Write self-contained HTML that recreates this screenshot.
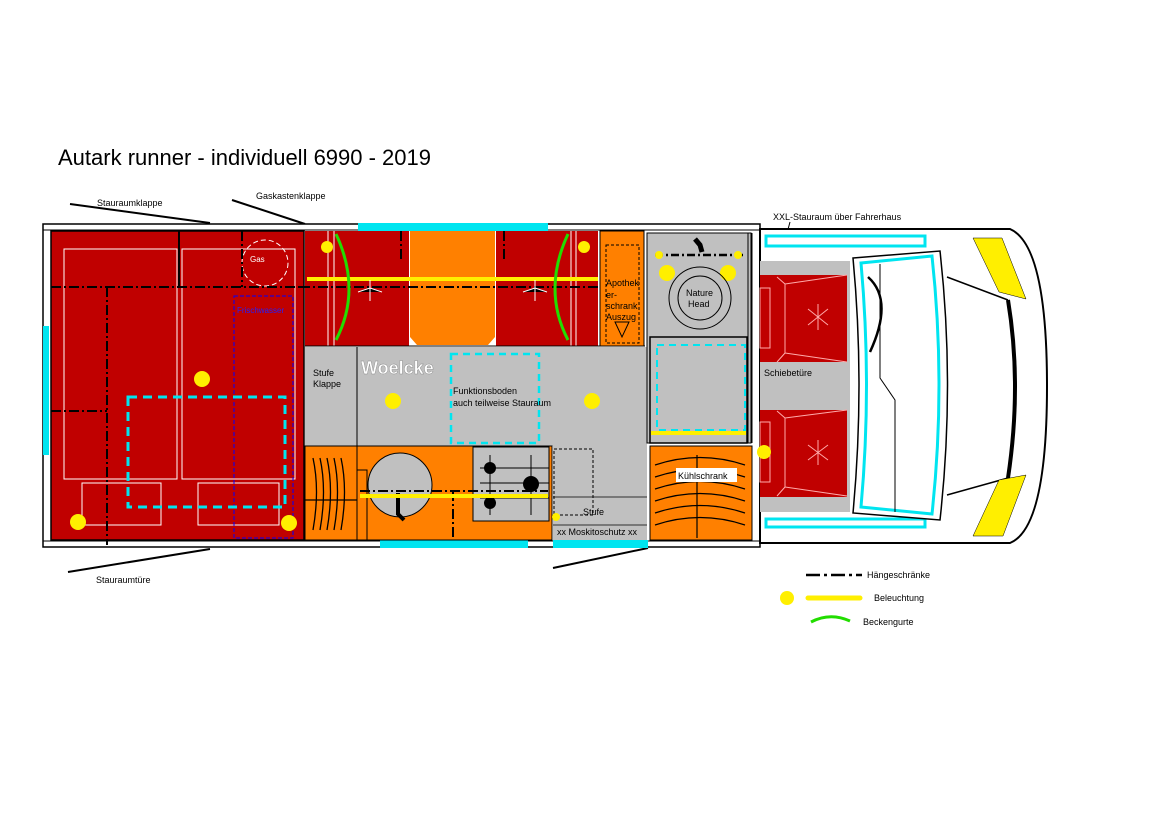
<!DOCTYPE html>
<html><head><meta charset="utf-8"><style>
html,body{margin:0;padding:0;background:#fff}
svg{display:block;font-family:"Liberation Sans",sans-serif}
</style></head><body>
<svg width="1169" height="826" viewBox="0 0 1169 826" xmlns="http://www.w3.org/2000/svg">
<rect width="1169" height="826" fill="#fff"/>
<text x="58" y="165" font-size="22" fill="#000">Autark runner - individuell 6990 - 2019</text>

<!-- label lines -->
<line x1="70" y1="204" x2="210" y2="223" stroke="#000" stroke-width="2"/>
<text x="97" y="206" font-size="9">Stauraumklappe</text>
<line x1="232" y1="200" x2="305" y2="224" stroke="#000" stroke-width="2"/>
<text x="256" y="199" font-size="9">Gaskastenklappe</text>
<line x1="68" y1="572" x2="210" y2="549" stroke="#000" stroke-width="2"/>
<text x="96" y="583" font-size="9">Stauraumtüre</text>
<line x1="553" y1="568" x2="648" y2="548" stroke="#000" stroke-width="2"/>
<text x="773" y="220" font-size="9">XXL-Stauraum über Fahrerhaus</text>
<line x1="790" y1="222" x2="772" y2="288" stroke="#000" stroke-width="1"/>

<!-- body -->
<rect x="43" y="224" width="717" height="323" fill="#fff" stroke="#000" stroke-width="1.5"/>
<line x1="43" y1="230" x2="760" y2="230" stroke="#000"/>
<line x1="43" y1="541" x2="760" y2="541" stroke="#000"/>
<rect x="43" y="326" width="6" height="129" fill="#00e5f0"/>
<rect x="358" y="223" width="190" height="8" fill="#00e5f0"/>
<rect x="380" y="540" width="148" height="8" fill="#00e5f0"/>
<rect x="553" y="540" width="95" height="8" fill="#00e5f0"/>

<!-- rear bed -->
<rect x="51" y="231" width="253" height="309" fill="#c00000" stroke="#000" stroke-width="1.5"/>
<rect x="64" y="249" width="113" height="230" fill="none" stroke="#fff"/>
<rect x="182" y="249" width="113" height="230" fill="none" stroke="#fff"/>
<rect x="82" y="483" width="79" height="42" fill="none" stroke="#fff"/>
<rect x="198" y="483" width="81" height="42" fill="none" stroke="#fff"/>
<circle cx="265" cy="263" r="23" fill="none" stroke="#fff" stroke-dasharray="5,3"/>
<text x="250" y="262" font-size="8" fill="#fff">Gas</text>
<rect x="234" y="296" width="59" height="242" fill="none" stroke="#0000ff" stroke-dasharray="4,2"/>
<text x="237" y="313" font-size="8" fill="#2020ff">Frischwasser</text>
<g stroke="#000" stroke-width="2" stroke-dasharray="10,3,2,3" fill="none">
<line x1="51" y1="287" x2="304" y2="287"/>
<line x1="107" y1="287" x2="107" y2="545"/>
<line x1="51" y1="411" x2="107" y2="411"/>
<line x1="242" y1="231" x2="242" y2="287"/>
</g>
<line x1="179" y1="231" x2="179" y2="287" stroke="#000" stroke-width="2"/>
<rect x="128" y="397" width="157" height="110" fill="none" stroke="#00e5f0" stroke-width="3" stroke-dasharray="9,6"/>
<circle cx="202" cy="379" r="8" fill="#ffef00"/>
<circle cx="78" cy="522" r="8" fill="#ffef00"/>
<circle cx="289" cy="523" r="8" fill="#ffef00"/>

<!-- upper cabinets -->
<rect x="305" y="231" width="104" height="115" fill="#c00000"/>
<rect x="496" y="231" width="102" height="115" fill="#c00000"/>
<path d="M410 231 H495 V337 L488 345 H417 L410 337 Z" fill="#ff8000"/>
<rect x="600" y="231" width="44" height="115" fill="#ff8000" stroke="#000"/>
<rect x="606" y="245" width="33" height="98" fill="none" stroke="#000" stroke-dasharray="3,2"/>
<text x="606" y="286" font-size="9">Apothek</text>
<text x="606" y="298" font-size="9">er-</text>
<text x="606" y="309" font-size="9">schrank</text>
<text x="606" y="320" font-size="9">Auszug</text>
<path d="M615 322 H629 L622 337 Z" fill="none" stroke="#000"/>
<g stroke="#fff"><line x1="328" y1="231" x2="328" y2="346"/><line x1="334" y1="231" x2="334" y2="346"/><line x1="571" y1="231" x2="571" y2="346"/><line x1="576" y1="231" x2="576" y2="346"/></g>
<line x1="300" y1="287" x2="600" y2="287" stroke="#000" stroke-width="2" stroke-dasharray="10,3,2,3"/>
<line x1="401" y1="231" x2="401" y2="260" stroke="#000" stroke-width="2" stroke-dasharray="10,3,2,3"/>
<line x1="504" y1="231" x2="504" y2="260" stroke="#000" stroke-width="2" stroke-dasharray="10,3,2,3"/>
<line x1="307" y1="279" x2="598" y2="279" stroke="#ffef00" stroke-width="4"/>
<path d="M336 234 Q362 290 336 340" fill="none" stroke="#22dd00" stroke-width="3"/>
<path d="M568 234 Q542 290 568 340" fill="none" stroke="#22dd00" stroke-width="3"/>
<circle cx="327" cy="247" r="6" fill="#ffef00"/>
<circle cx="584" cy="247" r="6" fill="#ffef00"/>
<g stroke="#fff"><path d="M370 280 V301 M358 292 L370 288 L382 292"/><path d="M535 280 V301 M523 292 L535 288 L547 292"/></g>
<line x1="305" y1="346" x2="645" y2="346" stroke="#000"/>

<!-- floor -->
<rect x="305" y="347" width="342" height="99" fill="#c0c0c0"/>
<line x1="357" y1="347" x2="357" y2="446" stroke="#000"/>
<text x="313" y="376" font-size="9">Stufe</text>
<text x="313" y="387" font-size="9">Klappe</text>
<text x="361" y="374" font-size="18" font-weight="bold" fill="#fff" stroke="#888" stroke-width="0.4">Woelcke</text>
<rect x="451" y="354" width="88" height="89" fill="none" stroke="#00e5f0" stroke-width="2.5" stroke-dasharray="7,5"/>
<text x="453" y="394" font-size="9">Funktionsboden</text>
<text x="453" y="406" font-size="9">auch teilweise Stauraum</text>
<circle cx="393" cy="401" r="8" fill="#ffef00"/>
<circle cx="592" cy="401" r="8" fill="#ffef00"/>

<!-- lower -->
<rect x="305" y="446" width="52" height="94" fill="#ff8000" stroke="#000"/>
<g stroke="#000" fill="none" stroke-width="1.3">
<path d="M313 458 Q320 490 313 530"/><path d="M320 458 Q327 490 320 530"/><path d="M327 458 Q334 490 327 530"/><path d="M334 458 Q341 490 334 530"/><path d="M341 458 Q348 490 341 530"/>
<line x1="305" y1="500" x2="357" y2="500"/></g>
<rect x="357" y="446" width="195" height="94" fill="#ff8000" stroke="#000"/>
<rect x="357" y="470" width="10" height="70" fill="#ff8000" stroke="#000"/>
<circle cx="400" cy="485" r="32" fill="#c0c0c0" stroke="#000"/>
<path d="M398 493 V514 L404 520" stroke="#000" stroke-width="4" fill="none"/>
<rect x="473" y="447" width="76" height="74" fill="#c0c0c0" stroke="#000"/>
<g stroke="#000"><line x1="480" y1="468" x2="549" y2="468"/><line x1="480" y1="483" x2="549" y2="483"/><line x1="480" y1="498" x2="549" y2="498"/><line x1="490" y1="455" x2="490" y2="515"/><line x1="531" y1="455" x2="531" y2="515"/></g>
<circle cx="490" cy="468" r="6" fill="#000"/><circle cx="531" cy="484" r="8" fill="#000"/><circle cx="490" cy="503" r="6" fill="#000"/>
<line x1="360" y1="491" x2="548" y2="491" stroke="#000" stroke-width="2" stroke-dasharray="10,3,2,3"/>
<line x1="453" y1="491" x2="453" y2="540" stroke="#000" stroke-width="2" stroke-dasharray="10,3,2,3"/>
<line x1="360" y1="496" x2="548" y2="496" stroke="#ffef00" stroke-width="4"/>
<rect x="553" y="446" width="94" height="94" fill="#c0c0c0"/>
<rect x="554" y="449" width="39" height="66" fill="none" stroke="#000" stroke-dasharray="3,2"/>
<line x1="553" y1="497" x2="647" y2="497" stroke="#000" stroke-width="0.8"/>
<line x1="553" y1="525" x2="647" y2="525" stroke="#000" stroke-width="0.8"/>
<text x="583" y="515" font-size="9">Stufe</text>
<text x="557" y="535" font-size="9">xx Moskitoschutz xx</text>
<circle cx="556" cy="517" r="4" fill="#ffef00"/>

<!-- bathroom -->
<rect x="647" y="233" width="104" height="210" fill="#c0c0c0" stroke="#000"/>
<line x1="655" y1="255" x2="745" y2="255" stroke="#000" stroke-width="2.5" stroke-dasharray="8,3,2,3"/>
<path d="M695 239 L700 245 L702 252" stroke="#000" stroke-width="5" fill="none"/>
<circle cx="659" cy="255" r="4" fill="#ffef00"/><circle cx="738" cy="255" r="4" fill="#ffef00"/>
<circle cx="667" cy="273" r="8" fill="#ffef00"/><circle cx="728" cy="273" r="8" fill="#ffef00"/>
<circle cx="700" cy="298" r="31" fill="none" stroke="#000"/>
<circle cx="700" cy="298" r="22" fill="none" stroke="#000"/>
<text x="686" y="296" font-size="9">Nature</text><text x="688" y="307" font-size="9">Head</text>
<rect x="650" y="337" width="97" height="106" fill="none" stroke="#000" stroke-width="1.5"/>
<rect x="657" y="345" width="88" height="85" fill="none" stroke="#00e5f0" stroke-width="2" stroke-dasharray="7,5"/>
<line x1="651" y1="433" x2="746" y2="433" stroke="#ffef00" stroke-width="4"/>
<line x1="748" y1="233" x2="748" y2="443" stroke="#000"/>
<line x1="752" y1="233" x2="752" y2="443" stroke="#000"/>
<rect x="650" y="446" width="102" height="94" fill="#ff8000" stroke="#000"/>
<g stroke="#000" fill="none" stroke-width="1.2">
<path d="M655 465 Q700 450 745 465"/><path d="M655 477 Q700 462 745 477"/><path d="M655 489 Q700 474 745 489"/><path d="M655 501 Q700 486 745 501"/><path d="M655 513 Q700 498 745 513"/><path d="M655 525 Q700 510 745 525"/><line x1="697" y1="455" x2="697" y2="538"/></g>
<rect x="676" y="468" width="61" height="14" fill="#fff"/>
<text x="678" y="479" font-size="9">Kühlschrank</text>

<!-- cab -->
<path d="M760 229 H1010 Q1047 245 1047 386 Q1047 528 1010 543 H760 Z" fill="#fff" stroke="#000" stroke-width="2"/>
<rect x="760" y="261" width="90" height="251" fill="#c0c0c0"/>
<rect x="760" y="275" width="87" height="87" fill="#c00000"/>
<rect x="760" y="410" width="87" height="87" fill="#c00000"/>
<g stroke="#ffaaaa" fill="none">
<rect x="760" y="288" width="10" height="60"/><path d="M777 277 L785 284 V353 L777 362 M785 284 L847 275 M785 353 L847 362"/>
<rect x="760" y="422" width="10" height="60"/><path d="M777 411 L785 418 V487 L777 496 M785 418 L847 410 M785 487 L847 496"/>
<path d="M818 304 V330 M808 309 L828 325 M828 309 L808 325"/>
<path d="M818 440 V465 M808 445 L828 460 M828 445 L808 460"/></g>
<text x="764" y="376" font-size="9">Schiebetüre</text>
<circle cx="764" cy="452" r="7" fill="#ffef00"/>
<path d="M766 236 H925 V246 H766 Z" fill="none" stroke="#00e5f0" stroke-width="3"/>
<path d="M766 519 H925 V527 H766 Z" fill="none" stroke="#00e5f0" stroke-width="3"/>
<path d="M853 258 L940 251 Q955 385 940 520 L853 513 Q865 385 853 258 Z" fill="#fff" stroke="#000" stroke-width="1.5"/>
<path d="M861 263 L932 256 Q946 385 932 514 L861 507 Q872 385 861 263 Z" fill="none" stroke="#00e5f0" stroke-width="3"/>
<path d="M868 277 Q894 300 870 352" fill="none" stroke="#000" stroke-width="2.5"/>
<path d="M880 264 V378 L895 400 V512" fill="none" stroke="#000"/>
<path d="M947 277 L1008 300 M947 495 L1008 478" stroke="#000" stroke-width="1.5"/>
<path d="M1008 300 Q1022 385 1008 478" fill="none" stroke="#000" stroke-width="4"/>
<path d="M973 238 H1002 L1026 299 L999 292 Z" fill="#ffef00" stroke="#000" stroke-width="0.5"/>
<path d="M999 480 L1026 475 L1003 536 H973 Z" fill="#ffef00" stroke="#000" stroke-width="0.5"/>

<!-- legend -->
<line x1="806" y1="575" x2="862" y2="575" stroke="#000" stroke-width="2.5" stroke-dasharray="14,4,3,4"/>
<text x="867" y="578" font-size="9">Hängeschränke</text>
<circle cx="787" cy="598" r="7" fill="#ffef00"/>
<line x1="808" y1="598" x2="860" y2="598" stroke="#ffef00" stroke-width="5" stroke-linecap="round"/>
<text x="874" y="601" font-size="9">Beleuchtung</text>
<path d="M811 622 Q830 612 850 621" fill="none" stroke="#22dd00" stroke-width="3"/>
<text x="863" y="625" font-size="9">Beckengurte</text>
</svg>
</body></html>
